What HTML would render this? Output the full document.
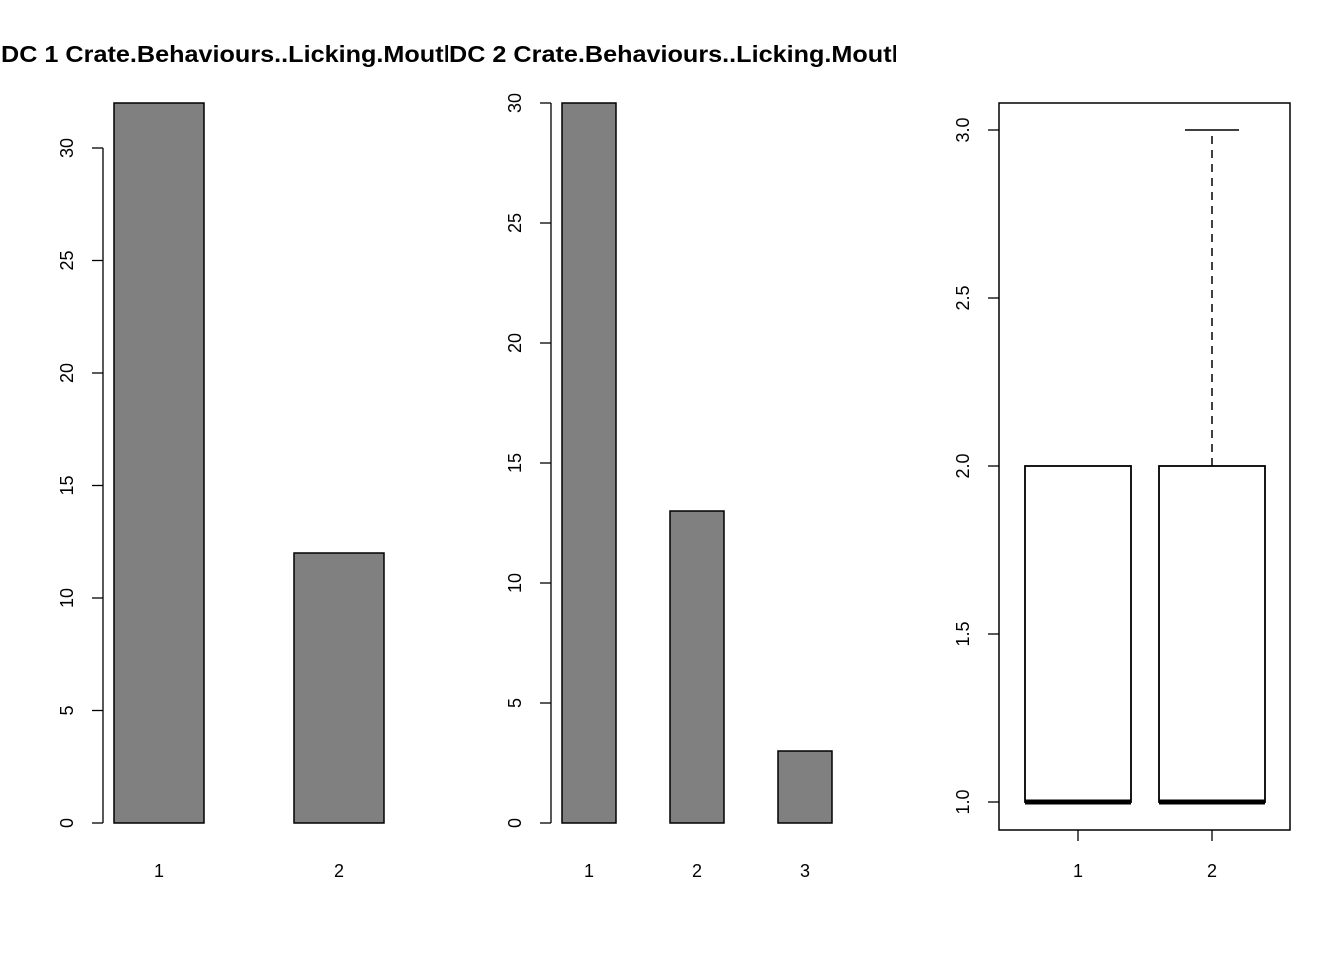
<!DOCTYPE html>
<html><head><meta charset="utf-8"><style>
body{margin:0;background:#fff}
svg text{font-family:"Liberation Sans",Arial,sans-serif}
</style></head><body>
<svg id="c" width="1344" height="960" xmlns="http://www.w3.org/2000/svg">
<defs>
<clipPath id="c1"><rect x="0" y="0" width="448" height="960"/></clipPath>
<clipPath id="c2"><rect x="448" y="0" width="448" height="960"/></clipPath>
</defs>
<text x="1" y="62" font-weight="bold" font-size="23" textLength="458" lengthAdjust="spacingAndGlyphs" clip-path="url(#c1)">DC 1 Crate.Behaviours..Licking.Mouth</text>
<text x="449" y="62" font-weight="bold" font-size="23" textLength="458" lengthAdjust="spacingAndGlyphs" clip-path="url(#c2)">DC 2 Crate.Behaviours..Licking.Mouth</text>
<g id="g"></g>
</svg>
<script>
const cats1=["1","2"];
const vals1=[32,12];
const ticks1=[0,5,10,15,20,25,30];
const cats2=["1","2","3"];
const vals2=[30,13,3];
const ticks2=[0,5,10,15,20,25,30];
const boxCats=["1","2"];
const boxMin=[1,1];
const boxQ1=[1,1];
const boxMed=[1,1];
const boxQ3=[2,2];
const boxMax=[2,3];
const ticks3=["1.0","1.5","2.0","2.5","3.0"];

const NS="http://www.w3.org/2000/svg";
const g=document.getElementById('g');
function el(t,a,txt){const e=document.createElementNS(NS,t);for(const k in a)e.setAttribute(k,a[k]);if(txt!==undefined)e.textContent=txt;g.appendChild(e);return e;}

function barPanel(cats,vals,ticks,axX,labX,y0,perUnit,x0,bw,gap,key){
  const y=v=>y0-v*perUnit;
  let e=el('line',{x1:axX,x2:axX,y1:y(ticks[0]),y2:y(ticks[ticks.length-1]),stroke:'#000','stroke-width':1.3});
  
  
  ticks.forEach(t=>{
    const l=el('line',{x1:axX-11,x2:axX,y1:y(t),y2:y(t),stroke:'#000','stroke-width':1.3});
    
    
    const tx=el('text',{x:0,y:0,transform:`translate(${labX},${y(t)}) rotate(-90)`,'text-anchor':'middle','font-size':18},String(t));
    
    
  });
  vals.forEach((v,i)=>{
    const x=x0+i*(bw+gap);
    const r=el('rect',{x:x,y:y(v),width:bw,height:y(0)-y(v),fill:'#808080',stroke:'#000','stroke-width':1.5});
    
    
    const t=el('text',{x:x+bw/2,y:877,'text-anchor':'middle','font-size':18},cats[i]);
    
    
  });
}
barPanel(cats1,vals1,ticks1,103,73,823,22.5,114,90,90,'panel1');
barPanel(cats2,vals2,ticks2,551,521,823,24,562,54,54,'panel2');
// boxplot
(function(){
  const y=v=>802-(v-1)*336;
  let f=el('rect',{x:999,y:103,width:291,height:727,fill:'none',stroke:'#000','stroke-width':1.5});
  
  
  ticks3.forEach(t=>{
    const v=parseFloat(t);
    const l=el('line',{x1:988,x2:999,y1:y(v),y2:y(v),stroke:'#000','stroke-width':1.3});
    
    
    const tx=el('text',{x:0,y:0,transform:`translate(969,${y(v)}) rotate(-90)`,'text-anchor':'middle','font-size':18},t);
    
    
  });
  const cx=[1078,1212];
  boxCats.forEach((c,i)=>{
    const x=cx[i],hw=53;
    const tk=el('line',{x1:x,x2:x,y1:830,y2:841,stroke:'#000','stroke-width':1.3});
    
    
    const t=el('text',{x:x,y:877,'text-anchor':'middle','font-size':18},c);
    
    
    if(boxMax[i]>boxQ3[i]){
      const w=el('line',{x1:x,x2:x,y1:y(boxQ3[i]),y2:y(boxMax[i]),stroke:'#000','stroke-width':1.5,'stroke-dasharray':'8,6'});
      
      
      const cp=el('line',{x1:x-27,x2:x+27,y1:y(boxMax[i]),y2:y(boxMax[i]),stroke:'#000','stroke-width':1.5});
      
      
    }
    const b=el('rect',{x:x-hw,y:y(boxQ3[i]),width:hw*2,height:y(boxQ1[i])-y(boxQ3[i]),fill:'#fff',stroke:'#000','stroke-width':1.8});
    
    
    const m=el('line',{x1:x-hw,x2:x+hw,y1:y(boxMed[i]),y2:y(boxMed[i]),stroke:'#000','stroke-width':5});
    
    
  });
})();
</script>
</body></html>
